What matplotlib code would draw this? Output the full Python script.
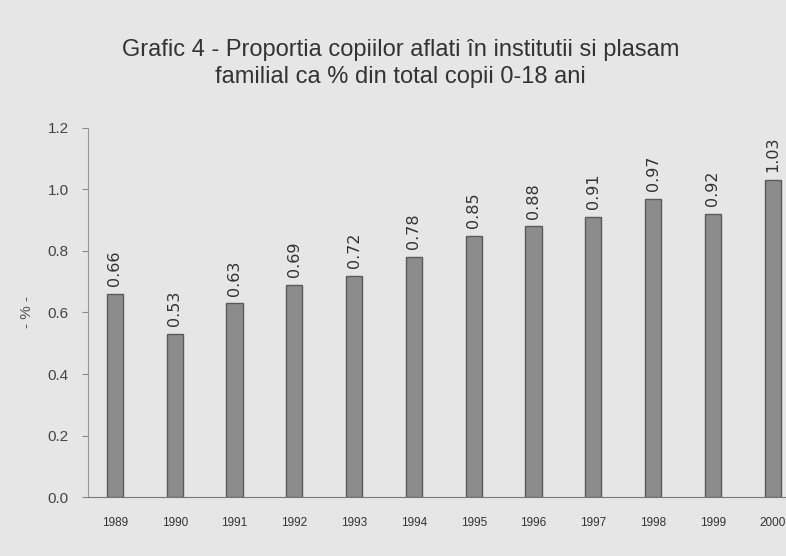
import matplotlib
matplotlib.use("Agg")
import matplotlib.pyplot as plt

years = ["1989", "1990", "1991", "1992", "1993", "1994", "1995", "1996", "1997", "1998", "1999", "2000"]
values = [0.66, 0.53, 0.63, 0.69, 0.72, 0.78, 0.85, 0.88, 0.91, 0.97, 0.92, 1.03]
yticks = [0.0, 0.2, 0.4, 0.6, 0.8, 1.0, 1.2]

plt.rcParams['font.family'] = ['Liberation Sans', 'DejaVu Sans']

fig = plt.figure(figsize=(7.86, 5.56), dpi=100)
fig.patch.set_facecolor('#e6e6e6')
ax = fig.add_axes([0.112, 0.106, 0.9, 0.664])
ax.set_facecolor('#e6e6e6')

x = list(range(len(years)))
bars = ax.bar(x, values, width=0.27, color='#8c8c8c', edgecolor='#5a5a5a', linewidth=1.0, zorder=3)
for xi, v in zip(x, values):
    ax.text(xi, v + 0.025, f"{v:.2f}", rotation=90, ha='center', va='bottom',
            fontsize=11.5, color='#333333', family='DejaVu Sans')

ax.set_xlim(-0.45, 11.38)
ax.set_ylim(0, 1.2)
ax.set_xticks(x)
ax.set_xticklabels(years, fontsize=8.5, color='#333333')
ax.set_yticks(yticks)
ax.set_yticklabels([f"{t:.1f}" for t in yticks], fontsize=11, color='#444444')
ax.tick_params(axis='x', length=0, pad=14)
ax.tick_params(axis='y', length=4, color='#888888', pad=10)
for s in ['top', 'right']:
    ax.spines[s].set_visible(False)
ax.spines['left'].set_color('#999999')
ax.spines['bottom'].set_color('#777777')
ax.set_ylabel("- % -", fontsize=11, color='#555555', labelpad=10)

fig.text(0.51, 0.885, "Grafic 4 - Proportia copiilor aflati în institutii si plasam\nfamilial ca % din total copii 0-18 ani",
         ha='center', va='center', fontsize=17, color='#333333', linespacing=1.3)

fig.savefig("out.png", dpi=100, facecolor=fig.get_facecolor())
